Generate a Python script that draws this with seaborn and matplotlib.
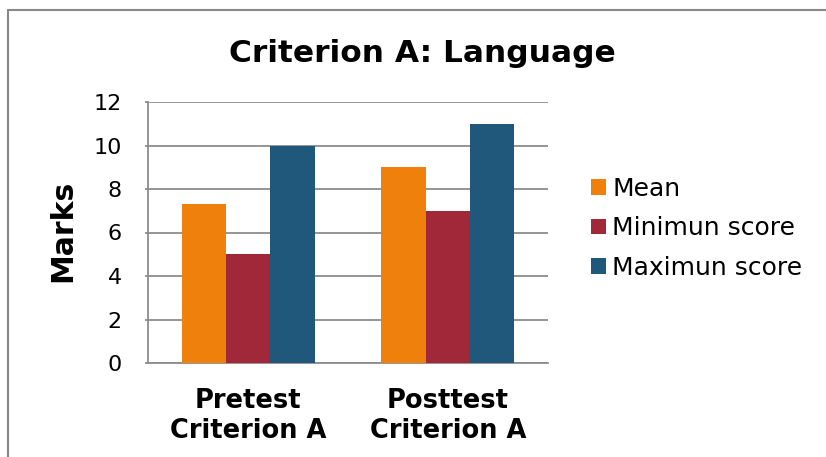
import matplotlib
matplotlib.use("Agg")
import matplotlib.pyplot as plt
import seaborn as sns
import pandas as pd
from matplotlib.lines import Line2D

categories = ["Pretest\nCriterion A", "Posttest\nCriterion A"]
series = ["Mean", "Minimun score", "Maximun score"]
mean_vals = [7.33, 9]
min_vals = [5, 7]
max_vals = [10, 11]
colors = ["#F0800C", "#A12839", "#1F587B"]

rows = []
for s, vals in zip(series, [mean_vals, min_vals, max_vals]):
    for c, v in zip(categories, vals):
        rows.append({"Category": c, "Series": s, "Marks": v})
df = pd.DataFrame(rows)

sns.set_theme(style="white")
plt.rcParams['font.family'] = ['DejaVu Sans']
plt.rcParams['text.color'] = 'black'
plt.rcParams['xtick.color'] = 'black'
plt.rcParams['ytick.color'] = 'black'
plt.rcParams['axes.labelcolor'] = 'black'

W, H = 826, 457
fig = plt.figure(figsize=(W / 100, H / 100), dpi=100)
ax = fig.add_axes([148.3 / W, 1 - 363 / H, (547.7 - 148.3) / W, (363 - 102) / H])

sns.barplot(data=df, x="Category", y="Marks", hue="Series", order=categories,
            hue_order=series, palette=colors, width=0.667, gap=0,
            edgecolor="none", linewidth=0, saturation=1, ax=ax, zorder=3)

ax.set_ylim(0, 12)
ax.set_xlim(-0.5, 1.5)
ax.set_yticks(range(0, 13, 2))
ax.yaxis.grid(True, color="#8C8C8C", linewidth=1.3, zorder=0)
ax.set_axisbelow(True)
for side in ["top", "right"]:
    ax.spines[side].set_visible(False)
for side in ["left", "bottom"]:
    ax.spines[side].set_color("#8C8C8C")
    ax.spines[side].set_linewidth(1.3)
ax.tick_params(axis="y", length=2, width=1.3, color="#8C8C8C", pad=17,
               labelsize=16, labelcolor="black", left=True)
ax.tick_params(axis="x", length=0, pad=18, labelcolor="black")
for lab in ax.get_xticklabels():
    lab.set_fontsize(18.5)
    lab.set_fontweight("bold")
    lab.set_linespacing(1.2)
ax.set_xlabel("")
ax.set_ylabel("")

leg = ax.legend(loc="center left", bbox_to_anchor=(591 / W, 1 - 228.3 / H),
                bbox_transform=fig.transFigure, frameon=False, fontsize=18,
                handlelength=0.58, handleheight=0.58, handletextpad=0.28,
                labelspacing=0.62, borderpad=0, borderaxespad=0)
for t in leg.get_texts():
    t.set_color("black")

fig.text(422 / W, 1 - 62.3 / H, "Criterion A: Language", ha="center",
         va="baseline", fontsize=22.5, fontweight="bold", color="black")
fig.text(63 / W, 1 - 231 / H, "Marks", ha="center", va="center", rotation=90,
         fontsize=21.5, fontweight="bold", color="black")

fig.add_artist(Line2D([8 / W, 1], [1 - 9.5 / H, 1 - 9.5 / H], transform=fig.transFigure,
                      color="#888888", linewidth=1.5))
fig.add_artist(Line2D([8 / W, 8 / W], [0, 1 - 9.5 / H], transform=fig.transFigure,
                      color="#888888", linewidth=1.5))

fig.savefig("out.png", dpi=100)
